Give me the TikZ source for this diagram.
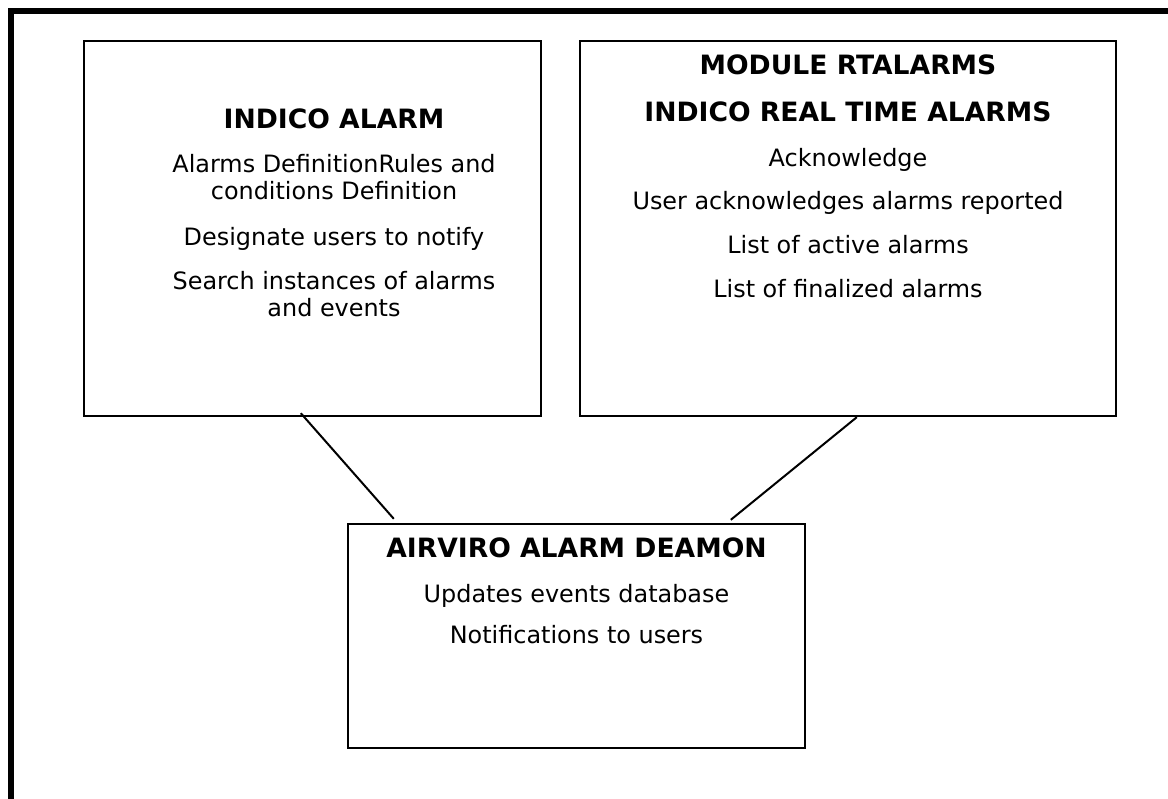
\documentclass[tikz,border=0pt]{standalone}
\usepackage{fontspec}
\setmainfont{DejaVu Sans}
\usepackage{tikz}
\usetikzlibrary{positioning}

\tikzset{
    box/.style={draw, line width=2.4pt, rectangle, inner sep=0pt},
    line/.style={line width=2pt},
    txt/.style={anchor=base, inner sep=0pt, font=\fontsize{23.9}{28}\selectfont},
    ttl/.style={anchor=base, inner sep=0pt, font=\fontsize{26.6}{31}\selectfont\bfseries}
}

\begin{document}
\begin{tikzpicture}[x=1pt, y=-1pt]
    \clip (0,0) rectangle (1168,799);
    \draw [line width=6pt] (11,900) -- (11,11) -- (1300,11);

    % the three boxes
    \node [box, minimum width=457pt, minimum height=375pt] (indico) at (312.5,228.5) {};
    \node [box, minimum width=536pt, minimum height=375pt] (rtalarms) at (848,228.5) {};
    \node [box, minimum width=457pt, minimum height=224pt] (deamon) at (576.5,636) {};

    % INDICO ALARM
    \node [ttl] (ititle) at (334,129) {INDICO ALARM};
    \node [txt] (irules) at (334,173) {Alarms DefinitionRules and};
    \node [txt] (icond) at (334,200) {conditions Definition};
    \node [txt] (iusers) at (334,246) {Designate users to notify};
    \node [txt] (isearch) at (334,290) {Search instances of alarms};
    \node [txt] (ievents) at (334,317) {and events};

    % MODULE RTALARMS
    \node [ttl] (rmodule) at (848,75) {MODULE RTALARMS};
    \node [ttl] (rtitle) at (848,122) {INDICO REAL TIME ALARMS};
    \node [txt] (rack) at (848,167) {Acknowledge};
    \node [txt] (ruser) at (848,210) {User acknowledges alarms reported};
    \node [txt] (ractive) at (848,254) {List of active alarms};
    \node [txt] (rfinal) at (848,298) {List of finalized alarms};

    % AIRVIRO ALARM DEAMON
    \node [ttl] (dtitle) at (576.5,557) {AIRVIRO ALARM DEAMON};
    \node [txt] (dupdate) at (576.5,602) {Updates events database};
    \node [txt] (dnotify) at (576.5,643) {Notifications to users};

    \draw [line] ([xshift=218pt, yshift=4pt]indico.south west) -- ([xshift=47pt, yshift=4pt]deamon.north west);
    \draw [line] ([xshift=278pt]rtalarms.south west) -- ([xshift=384pt, yshift=3pt]deamon.north west);
\end{tikzpicture}
\end{document}
